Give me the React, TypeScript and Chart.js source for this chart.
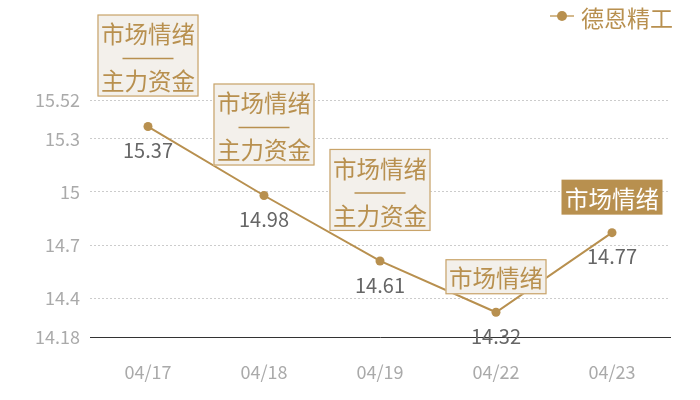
import React, { useEffect, useRef } from "react";
import { Chart, registerables } from "chart.js";

Chart.register(...registerables);

const CATEGORIES = ["04/17", "04/18", "04/19", "04/22", "04/23"];
const PRICES = [15.37, 14.98, 14.61, 14.32, 14.77];
const Y_TICKS = [14.18, 14.4, 14.7, 15, 15.3, 15.52];
const SERIES_NAME = "德恩精工";
const TAG_TOP = ["市场情绪", "市场情绪", "市场情绪", "市场情绪", "市场情绪"];
const TAG_BOTTOM = ["主力资金", "主力资金", "主力资金", "", ""];
const TAG_FILLED = [false, false, false, false, true];

const FONT = '"Noto Sans CJK SC", "Noto Sans", sans-serif';
const GOLD = "#b8904f";
const TAG_BORDER = "#c9a46a";
const TAG_FILL = "#f3f0eb";

const overlayPlugin = {
  id: "overlay",
  afterDatasetsDraw(chart: any) {
    const ctx = chart.ctx;
    const meta = chart.getDatasetMeta(0);
    ctx.save();
    meta.data.forEach((pt: any, i: number) => {
      const x = pt.x;
      const y = pt.y;
      const two = !!TAG_BOTTOM[i];
      const h = two ? 82 : 35;
      const w = 101;
      const gap = two ? 30 : 18;
      const bottom = y - gap;
      const top = bottom - h;
      const left = x - w / 2;
      const filled = TAG_FILLED[i];
      ctx.fillStyle = filled ? GOLD : TAG_FILL;
      ctx.fillRect(left, top, w, h);
      if (!filled) {
        ctx.strokeStyle = TAG_BORDER;
        ctx.lineWidth = 1.2;
        ctx.strokeRect(left + 0.5, top + 0.5, w - 1, h - 1);
      }
      ctx.font = "23.5px " + FONT;
      ctx.textAlign = "center";
      ctx.textBaseline = "middle";
      ctx.fillStyle = filled ? "#ffffff" : GOLD;
      if (two) {
        ctx.fillText(TAG_TOP[i], x, top + 20);
        ctx.strokeStyle = GOLD;
        ctx.lineWidth = 1.5;
        ctx.beginPath();
        ctx.moveTo(x - 25.5, top + 44);
        ctx.lineTo(x + 25.5, top + 44);
        ctx.stroke();
        ctx.fillText(TAG_BOTTOM[i], x, top + 67);
      } else {
        ctx.fillText(TAG_TOP[i], x, top + 19);
      }
    });
    meta.data.forEach((pt: any, i: number) => {
      ctx.font = "20px " + FONT;
      ctx.fillStyle = "#666666";
      ctx.textAlign = "center";
      ctx.textBaseline = "middle";
      ctx.fillText(String(PRICES[i]), pt.x, pt.y + 24);
    });
    // legend
    const textRight = chart.width - 27;
    ctx.font = "23px " + FONT;
    ctx.textAlign = "right";
    ctx.textBaseline = "middle";
    ctx.fillStyle = GOLD;
    ctx.fillText(chart.data.datasets[0].label, textRight, 18);
    const tw = ctx.measureText(chart.data.datasets[0].label).width;
    const lx = textRight - tw - 7;
    ctx.strokeStyle = "#d4b98c";
    ctx.lineWidth = 2;
    ctx.beginPath();
    ctx.moveTo(lx - 24, 16);
    ctx.lineTo(lx, 16);
    ctx.stroke();
    ctx.fillStyle = GOLD;
    ctx.beginPath();
    ctx.arc(lx - 12, 16, 5, 0, Math.PI * 2);
    ctx.fill();
    ctx.restore();
  },
};

export default function App() {
  const ref = useRef<HTMLCanvasElement | null>(null);
  useEffect(() => {
    if (!ref.current) return;
    const chart = new Chart(ref.current, {
      type: "line",
      data: {
        labels: CATEGORIES,
        datasets: [
          {
            label: SERIES_NAME,
            data: PRICES,
            borderColor: GOLD,
            backgroundColor: GOLD,
            borderWidth: 2,
            pointRadius: 4.5,
            pointBackgroundColor: GOLD,
            pointBorderWidth: 0,
            tension: 0,
          },
        ],
      },
      options: {
        animation: false,
        responsive: false,
        maintainAspectRatio: false,
        layout: { padding: { top: 100, right: 30, left: 0, bottom: 0 } },
        plugins: { legend: { display: false }, tooltip: { enabled: false } },
        scales: {
          x: {
            type: "category",
            offset: true,
            grid: { display: false, drawTicks: false },
            border: { display: true, color: "#333333", width: 1 },
            ticks: {
              color: "#aaaaaa",
              font: { family: FONT, size: 18 },
              padding: 24,
            },
            afterFit(scale: any) {
              scale.height = 63;
            },
          },
          y: {
            min: 14.18,
            max: 15.52,
            afterBuildTicks(scale: any) {
              scale.ticks = Y_TICKS.map((v) => ({ value: v }));
            },
            afterFit(scale: any) {
              scale.width = 90;
            },
            grid: {
              color: "#cccccc",
              lineWidth: 1,
              drawTicks: false,
            },
            border: { display: false, dash: [2, 2] },
            ticks: {
              color: "#aaaaaa",
              font: { family: FONT, size: 18 },
              padding: 10,
              callback: (v: any) => String(v),
            },
          },
        },
      },
      plugins: [overlayPlugin],
    } as any);
    return () => chart.destroy();
  }, []);
  return (
    <div style={{ position: "fixed", left: 0, top: 0, width: 700, height: 400, background: "#fff" }}>
      <canvas ref={ref} width={700} height={400} style={{ width: 700, height: 400 }} />
    </div>
  );
}
